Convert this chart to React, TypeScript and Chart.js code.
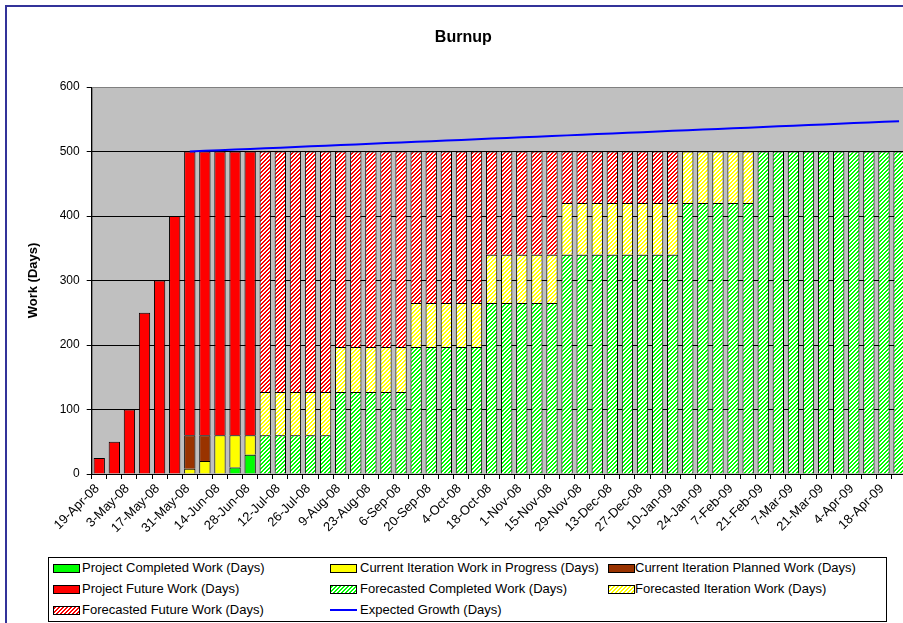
import React, { useEffect, useRef, useMemo } from 'react';
import { Chart, registerables } from 'chart.js';

Chart.register(...registerables);

const FONT = "Arial, 'Liberation Sans', sans-serif";

const categories = [
  '19-Apr-08', '26-Apr-08', '3-May-08', '10-May-08', '17-May-08', '24-May-08', '31-May-08', '7-Jun-08',
  '14-Jun-08', '21-Jun-08', '28-Jun-08', '5-Jul-08', '12-Jul-08', '19-Jul-08', '26-Jul-08', '2-Aug-08',
  '9-Aug-08', '16-Aug-08', '23-Aug-08', '30-Aug-08', '6-Sep-08', '13-Sep-08', '20-Sep-08', '27-Sep-08',
  '4-Oct-08', '11-Oct-08', '18-Oct-08', '25-Oct-08', '1-Nov-08', '8-Nov-08', '15-Nov-08', '22-Nov-08',
  '29-Nov-08', '6-Dec-08', '13-Dec-08', '20-Dec-08', '27-Dec-08', '3-Jan-09', '10-Jan-09', '17-Jan-09',
  '24-Jan-09', '31-Jan-09', '7-Feb-09', '14-Feb-09', '21-Feb-09', '28-Feb-09', '7-Mar-09', '14-Mar-09',
  '21-Mar-09', '28-Mar-09', '4-Apr-09', '11-Apr-09', '18-Apr-09', '25-Apr-09',
];

const projectCompletedWork = [
  null, null, null, null, null, null, null, null, null, 10, 30,
  null, null, null, null, null, null, null, null, null, null, null,
  null, null, null, null, null, null, null, null, null, null, null,
  null, null, null, null, null, null, null, null, null, null, null,
  null, null, null, null, null, null, null, null, null, null,
];

const currentIterationWorkInProgress = [
  null, null, null, null, null, null, 8, 20, 60, 50, 30,
  null, null, null, null, null, null, null, null, null, null, null,
  null, null, null, null, null, null, null, null, null, null, null,
  null, null, null, null, null, null, null, null, null, null, null,
  null, null, null, null, null, null, null, null, null, null,
];

const currentIterationPlannedWork = [
  null, null, null, null, null, null, 52, 40, null, null, null,
  null, null, null, null, null, null, null, null, null, null, null,
  null, null, null, null, null, null, null, null, null, null, null,
  null, null, null, null, null, null, null, null, null, null, null,
  null, null, null, null, null, null, null, null, null, null,
];

const projectFutureWork = [
  25, 50, 100, 250, 300, 400, 440, 440, 440, 440, 440,
  null, null, null, null, null, null, null, null, null, null, null,
  null, null, null, null, null, null, null, null, null, null, null,
  null, null, null, null, null, null, null, null, null, null, null,
  null, null, null, null, null, null, null, null, null, null,
];

const forecastedCompletedWork = [
  null, null, null, null, null, null, null, null, null, null, null,
  60, 60, 60, 60, 60,
  127, 127, 127, 127, 127,
  197, 197, 197, 197, 197,
  265, 265, 265, 265, 265,
  340, 340, 340, 340, 340, 340, 340, 340,
  420, 420, 420, 420, 420,
  500, 500, 500, 500, 500, 500, 500, 500, 500, 500,
];

const forecastedIterationWork = [
  null, null, null, null, null, null, null, null, null, null, null,
  67, 67, 67, 67, 67,
  70, 70, 70, 70, 70,
  68, 68, 68, 68, 68,
  75, 75, 75, 75, 75,
  80, 80, 80, 80, 80, 80, 80, 80,
  80, 80, 80, 80, 80,
  null, null, null, null, null, null, null, null, null, null,
];

const forecastedFutureWork = [
  null, null, null, null, null, null, null, null, null, null, null,
  373, 373, 373, 373, 373,
  303, 303, 303, 303, 303,
  235, 235, 235, 235, 235,
  160, 160, 160, 160, 160,
  80, 80, 80, 80, 80, 80, 80, 80,
  null, null, null, null, null,
  null, null, null, null, null, null, null, null, null, null,
];

const expectedGrowth = [
  null, null, null, null, null, null,
  500, 501, 502, 503, 504, 505, 506, 507, 508, 509, 510, 511, 512, 513, 514, 515,
  516, 517, 518, 519, 520, 521, 522, 523, 524, 525, 526, 527, 528, 529, 530, 531,
  532, 533, 534, 535, 536, 537, 538, 539, 540, 541, 542, 543, 544, 545, 546, 547,
];

const yTicks = [0, 100, 200, 300, 400, 500, 600];

const seriesNames = [
  'Project Completed Work (Days)',
  'Current Iteration Work in Progress (Days)',
  'Current Iteration Planned Work (Days)',
  'Project Future Work (Days)',
  'Forecasted Completed Work (Days)',
  'Forecasted Iteration Work (Days)',
  'Forecasted Future Work (Days)',
  'Expected Growth (Days)',
];

const GREEN = '#00FF00';
const YELLOW = '#FFFF00';
const BROWN = '#993300';
const RED = '#FF0000';
const BLUE = '#0000FF';

function makeTile(color: string): HTMLCanvasElement {
  const c = document.createElement('canvas');
  c.width = 4;
  c.height = 4;
  const ctx = c.getContext('2d')!;
  ctx.fillStyle = '#FFFFFF';
  ctx.fillRect(0, 0, 4, 4);
  ctx.fillStyle = color;
  for (let y = 0; y < 4; y++) {
    for (let x = 0; x < 4; x++) {
      if ((x + y) % 4 < 2) ctx.fillRect(x, y, 1, 1);
    }
  }
  return c;
}

const CANVAS_W = 925;
const CANVAS_H = 640;

const backgroundPlugin = {
  id: 'excelBackground',
  beforeDraw(chart: any) {
    const { ctx, chartArea: a } = chart;
    ctx.save();
    ctx.fillStyle = '#FFFFFF';
    ctx.fillRect(0, 0, chart.width, chart.height);
    ctx.strokeStyle = '#333399';
    ctx.lineWidth = 2;
    ctx.strokeRect(6, 6, 915, 624);
    ctx.fillStyle = '#C0C0C0';
    ctx.fillRect(a.left, a.top, a.right - a.left, a.bottom - a.top);
    ctx.strokeStyle = '#808080';
    ctx.lineWidth = 1;
    ctx.strokeRect(Math.round(a.left) + 0.5, Math.round(a.top) + 0.5, Math.round(a.right - a.left), Math.round(a.bottom - a.top));
    ctx.restore();
  },
};

export default function App() {
  const canvasRef = useRef<HTMLCanvasElement | null>(null);

  const swatchUrls = useMemo(() => ({
    green: makeTile(GREEN).toDataURL(),
    yellow: makeTile(YELLOW).toDataURL(),
    red: makeTile(RED).toDataURL(),
  }), []);

  useEffect(() => {
    const canvas = canvasRef.current;
    if (!canvas) return;
    const ctx = canvas.getContext('2d')!;
    const greenHatch = ctx.createPattern(makeTile(GREEN), 'repeat');
    const yellowHatch = ctx.createPattern(makeTile(YELLOW), 'repeat');
    const redHatch = ctx.createPattern(makeTile(RED), 'repeat');

    const barCommon = {
      type: 'bar' as const,
      stack: 'work',
      order: 1,
      borderColor: '#000000',
      borderWidth: 1,
      categoryPercentage: 1,
      barPercentage: 0.75,
    };

    const chart = new Chart(canvas, {
      type: 'bar',
      data: {
        labels: categories,
        datasets: [
          { ...barCommon, label: seriesNames[0], data: projectCompletedWork, backgroundColor: GREEN },
          { ...barCommon, label: seriesNames[1], data: currentIterationWorkInProgress, backgroundColor: YELLOW },
          { ...barCommon, label: seriesNames[2], data: currentIterationPlannedWork, backgroundColor: BROWN },
          { ...barCommon, label: seriesNames[3], data: projectFutureWork, backgroundColor: RED },
          { ...barCommon, label: seriesNames[4], data: forecastedCompletedWork, backgroundColor: greenHatch as any },
          { ...barCommon, label: seriesNames[5], data: forecastedIterationWork, backgroundColor: yellowHatch as any },
          { ...barCommon, label: seriesNames[6], data: forecastedFutureWork, backgroundColor: redHatch as any },
          {
            type: 'line',
            label: seriesNames[7],
            data: expectedGrowth,
            stack: 'growth',
            order: 0,
            borderColor: BLUE,
            backgroundColor: BLUE,
            borderWidth: 2,
            pointRadius: 0,
            fill: false,
            tension: 0,
          } as any,
        ],
      },
      options: {
        responsive: false,
        animation: false,
        events: [],
        layout: { padding: { left: 20, right: 18.4, top: 5, bottom: 86 } },
        plugins: {
          legend: { display: false },
          tooltip: { enabled: false },
          title: {
            display: true,
            text: 'Burnup',
            color: '#000000',
            font: { family: FONT, size: 16, weight: 'bold', lineHeight: 1.2 },
            padding: { top: 23.4, bottom: 39.4 },
          },
        },
        scales: {
          x: {
            stacked: true,
            grid: {
              display: true,
              drawOnChartArea: false,
              drawTicks: true,
              tickLength: 5,
              tickColor: '#000000',
              color: '#000000',
              offset: true,
            },
            border: { display: true, color: '#000000', width: 1 },
            ticks: {
              autoSkip: false,
              maxRotation: 45,
              minRotation: 45,
              padding: 2,
              labelOffset: -2,
              color: '#000000',
              font: { family: FONT, size: 13 },
              callback: (_v: any, i: number) => (i % 2 === 0 ? categories[i] : ''),
            },
            afterFit: (s: any) => { s.height = 80; },
          },
          y: {
            stacked: true,
            min: yTicks[0],
            max: yTicks[yTicks.length - 1],
            afterBuildTicks: (s: any) => { s.ticks = yTicks.map((v) => ({ value: v })); },
            ticks: {
              stepSize: 100,
              padding: 7,
              color: '#000000',
              font: { family: FONT, size: 12 },
            },
            grid: {
              color: (c: any) => (c.tick && c.tick.value === 600 ? '#808080' : '#000000'),
              tickColor: '#000000',
              tickLength: 5,
              lineWidth: 1,
            },
            border: { display: true, color: '#000000', width: 1 },
            title: {
              display: true,
              text: 'Work (Days)',
              color: '#000000',
              font: { family: FONT, size: 13, weight: 'bold', lineHeight: 1.2 },
              padding: { top: 5.2, bottom: 0 },
            },
            afterFit: (s: any) => { s.width = 71.7; },
          },
        },
      } as any,
      plugins: [backgroundPlugin],
    });
    return () => chart.destroy();
  }, []);

  const colX = [53, 330, 608];
  const textX = [82, 360, 635];
  const rowY = [568, 589, 610];

  const swatch = (i: number): React.CSSProperties => {
    const base: React.CSSProperties = {
      position: 'absolute',
      width: 25,
      height: 7,
      border: '1px solid #000',
    };
    switch (i) {
      case 0: return { ...base, background: GREEN };
      case 1: return { ...base, background: YELLOW };
      case 2: return { ...base, background: BROWN };
      case 3: return { ...base, background: RED };
      case 4: return { ...base, backgroundImage: `url(${swatchUrls.green})`, backgroundRepeat: 'repeat' };
      case 5: return { ...base, backgroundImage: `url(${swatchUrls.yellow})`, backgroundRepeat: 'repeat' };
      case 6: return { ...base, backgroundImage: `url(${swatchUrls.red})`, backgroundRepeat: 'repeat' };
      default: return { position: 'absolute', width: 27, height: 2, background: BLUE };
    }
  };

  return (
    <div style={{ position: 'fixed', left: 0, top: 0, width: 903, height: 623, overflow: 'hidden', background: '#fff' }}>
      <canvas
        ref={canvasRef}
        width={CANVAS_W}
        height={CANVAS_H}
        style={{ position: 'absolute', left: 0, top: 0, width: CANVAS_W, height: CANVAS_H }}
      />
      <div
        style={{
          position: 'absolute',
          left: 48,
          top: 557,
          width: 837,
          height: 63,
          border: '1px solid #000',
          background: '#fff',
          boxSizing: 'content-box',
        }}
      />
      {seriesNames.map((name, i) => {
        const col = i % 3;
        const row = Math.floor(i / 3);
        const sw = swatch(i);
        const isLine = i === 7;
        return (
          <React.Fragment key={name}>
            <div style={{ ...sw, left: colX[col], top: isLine ? rowY[row] - 1 : rowY[row] - 4.5 }} />
            <div
              style={{
                position: 'absolute',
                left: textX[col],
                top: rowY[row] - 8,
                height: 16,
                lineHeight: '16px',
                fontFamily: FONT,
                fontSize: 13,
                color: '#000',
                whiteSpace: 'nowrap',
              }}
            >
              {name}
            </div>
          </React.Fragment>
        );
      })}
    </div>
  );
}
